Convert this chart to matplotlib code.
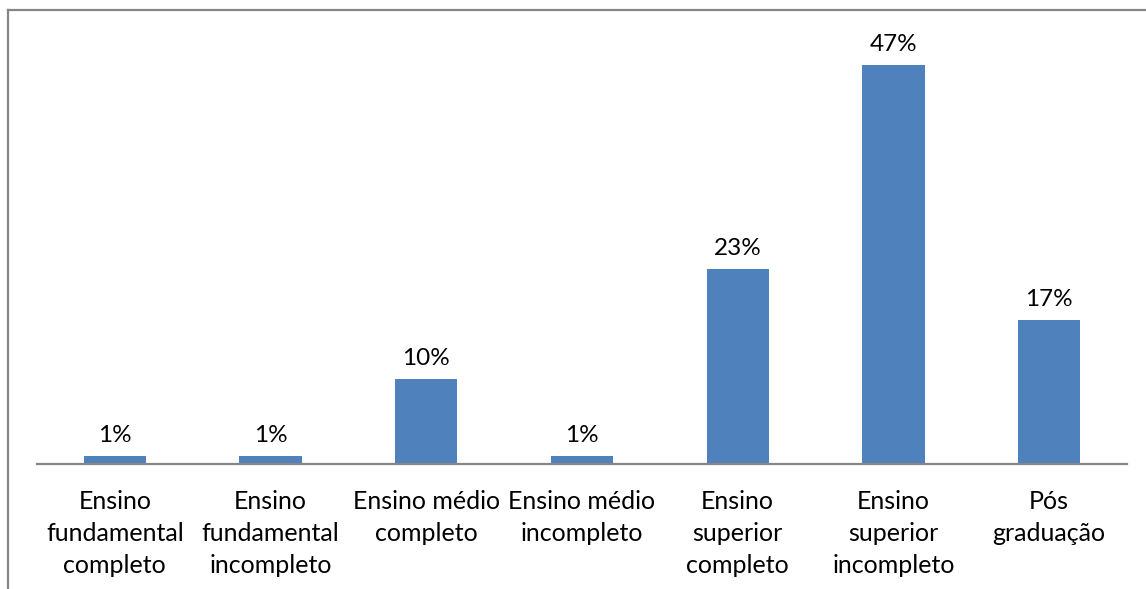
import matplotlib
matplotlib.use("Agg")
import matplotlib.pyplot as plt
from matplotlib.lines import Line2D

categories = ["Ensino\nfundamental\ncompleto", "Ensino\nfundamental\nincompleto",
              "Ensino médio\ncompleto", "Ensino médio\nincompleto",
              "Ensino\nsuperior\ncompleto", "Ensino\nsuperior\nincompleto",
              "Pós\ngraduação"]
values = [1, 1, 10, 1, 23, 47, 17]
labels = ["1%", "1%", "10%", "1%", "23%", "47%", "17%"]

plt.rcParams['font.family'] = ['Lato', 'DejaVu Sans']

W, H = 1146, 589
fig = plt.figure(figsize=(W/100, H/100), dpi=100)
ax = fig.add_axes([37/W, 1-464/H, (1127-37)/W, (464-39)/H])

x = list(range(len(categories)))
bars = ax.bar(x, values, width=0.4, color="#4F81BD", zorder=2)
ax.set_xlim(-0.5, len(categories)-0.5)
ax.set_ylim(0, 50)

for xi, v, lab in zip(x, values, labels):
    ax.annotate(lab, (xi, v), xytext=(0, 7), textcoords="offset points",
                ha="center", va="bottom", fontsize=17.5, color="#000000")

for s in ["top", "right", "left"]:
    ax.spines[s].set_visible(False)
ax.spines["bottom"].set_color("#868686")
ax.spines["bottom"].set_linewidth(1.6)
ax.set_yticks([])
ax.set_xticks(x)
ax.set_xticklabels(categories, fontsize=18, linespacing=1.47, color="#000000")
ax.tick_params(axis="x", length=0, pad=18.5)

# outer chart border (cropped frame)
fig.add_artist(Line2D([8/W, 8/W], [0, 1-10/H], transform=fig.transFigure,
                      color="#868686", lw=1.6))
fig.add_artist(Line2D([8/W, 1], [1-10/H, 1-10/H], transform=fig.transFigure,
                      color="#868686", lw=1.6))

fig.savefig("out.png", dpi=100, facecolor="white")
